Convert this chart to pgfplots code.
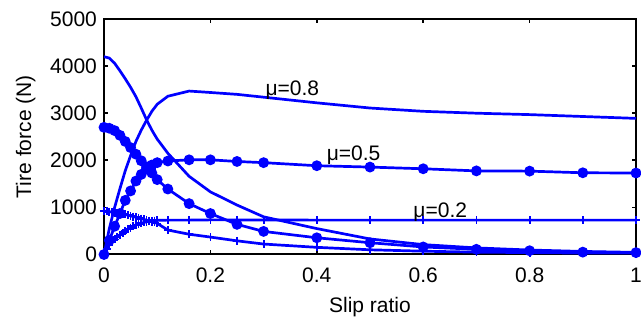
\documentclass[border=0pt]{standalone}
\usepackage{fontspec}
\setmainfont{Liberation Sans}
\usepackage{pgfplots}
\usepackage{pgfplotstable}
\pgfplotsset{compat=1.18}

\pgfplotstableread{
s     Fx8   Fy8   Fx5   Fy5
0     0     4200  0     2700
0.01  550   4170  300   2680
0.02  1000  4060  600   2630
0.03  1400  3900  870   2530
0.04  1780  3730  1150  2400
0.05  2100  3550  1350  2270
0.06  2400  3350  1560  2130
0.07  2640  3110  1700  1990
0.08  2850  2860  1820  1860
0.09  3040  2640  1900  1730
0.10  3190  2450  1950  1590
0.12  3360  2150  1985  1390
0.16  3470  1660  2010  1080
0.20  3440  1330  2010  870
0.25  3400  1050  1975  640
0.30  3340  800   1950  490
0.40  3220  550   1885  355
0.50  3110  330   1856  250
0.60  3040  210   1820  160
0.70  3000  140   1775  110
0.80  2970  95    1770  80
0.90  2930  65    1735  50
1.00  2890  45    1730  40
}\tabA

\pgfplotstableread{
s      Fx2   Fy2
0      0     920
0.005  120   915
0.01   200   910
0.015  270   900
0.02   320   890
0.025  370   880
0.03   420   870
0.035  460   860
0.04   500   850
0.045  540   835
0.05   570   820
0.055  600   805
0.06   625   790
0.065  645   775
0.07   665   760
0.075  680   745
0.08   695   730
0.085  705   715
0.09   715   700
0.095  720   680
0.10   725   660
0.12   730   520
0.16   730   430
0.20   735   370
0.25   735   290
0.30   732   222
0.40   730   152
0.50   730   100
0.60   730   70
0.70   730   50
0.80   730   40
0.90   730   30
1.00   730   30
}\tabB

\begin{document}
\begin{tikzpicture}[font=\fontsize{10.5}{12}\selectfont]
\begin{axis}[
  name=ax,
  scale only axis,
  width=266pt, height=117.75pt,
  xmin=0, xmax=1, ymin=0, ymax=5000,
  xtick={0,0.2,0.4,0.6,0.8,1},
  xticklabels={0,0.2,0.4,0.6,0.8,1},
  ytick={0,1000,2000,3000,4000,5000},
  scaled y ticks=false,
  /pgf/number format/assume math mode=true,
  yticklabel style={/pgf/number format/fixed, /pgf/number format/1000 sep={}},
  xticklabel style={yshift=-3pt},
  tick align=inside,
  major tick length=2.2pt,
  axis line style={black, line width=1pt},
  every tick/.style={black, line width=0.8pt},
  xlabel={Slip ratio},
  ylabel={Tire force (N)},
  xlabel style={yshift=-0.5pt},
  ylabel style={yshift=0.5pt},
  clip=true,
]
\addplot[blue, line width=1.35pt] table[x=s, y=Fx8] {\tabA};
\addplot[blue, line width=1.35pt] table[x=s, y=Fy8] {\tabA};
\addplot[blue, line width=1.35pt, mark=*, mark size=2pt, mark options={fill=blue}] table[x=s, y=Fx5] {\tabA};
\addplot[blue, line width=1.35pt, mark=*, mark size=2pt, mark options={fill=blue}] table[x=s, y=Fy5] {\tabA};
\addplot[blue, line width=1.35pt, mark=+, mark size=2pt, mark options={line width=0.9pt}] table[x=s, y=Fx2] {\tabB};
\addplot[blue, line width=1.35pt, mark=+, mark size=2pt, mark options={line width=0.9pt}] table[x=s, y=Fy2] {\tabB};
\node[anchor=base west, inner sep=0pt] at (axis cs:0.303,3372) {μ=0.8};
\node[anchor=base west, inner sep=0pt] at (axis cs:0.418,2000) {μ=0.5};
\node[anchor=base west, inner sep=0pt] at (axis cs:0.581,786) {μ=0.2};
\end{axis}
\pgfresetboundingbox
\useasboundingbox (ax.south west) ++(-52pt,-35.25pt) rectangle ++(320.5pt,162.5pt);
\end{tikzpicture}
\end{document}
